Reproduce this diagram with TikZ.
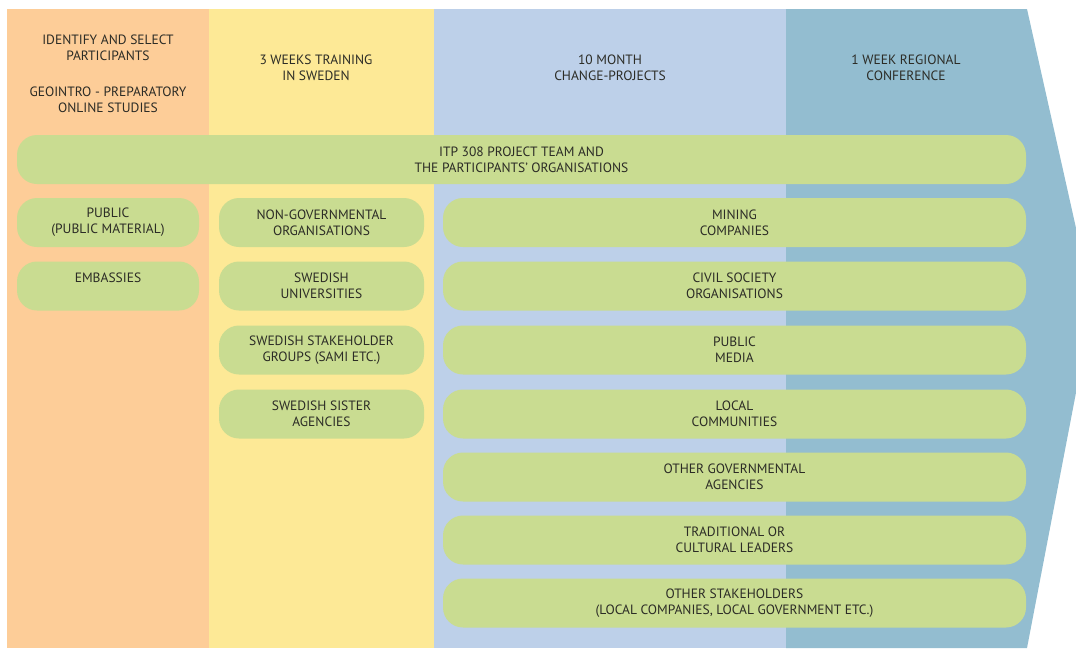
\documentclass[tikz,border=0pt]{standalone}
\usepackage{fontspec}
\setmainfont{PT Sans}
\definecolor{corange}{HTML}{FDCD98}
\definecolor{cyellow}{HTML}{FDE996}
\definecolor{clblue}{HTML}{BDD0E9}
\definecolor{cdblue}{HTML}{93BDD0}
\definecolor{cgreen}{HTML}{C9DC91}
\definecolor{ctext}{HTML}{2C2C26}
\tikzset{
  pill/.style={fill=cgreen, draw=none, rounded corners=20pt, inner sep=0pt,
    align=center, text=ctext, font=\fontsize{13.5}{16}\selectfont,
    minimum height=49pt},
  head/.style={align=center, text=ctext, font=\fontsize{13.5}{16}\selectfont, inner sep=0pt}
}
\begin{document}
\begin{tikzpicture}[x=1pt,y=-1pt]
\useasboundingbox (0,0) rectangle (1076,648);
% columns
\path[fill=corange] (7,9) rectangle (209,648);
\path[fill=cyellow] (209,9) rectangle (434,648);
\path[fill=clblue] (434,9) rectangle (786,648);
\path[fill=cdblue] (786,9) -- (1027,9) -- (1093,304) -- (1027,648) -- (786,648) -- cycle;
% headers
\node[head] (h1) at (108,74) {IDENTIFY AND SELECT\\PARTICIPANTS\\[20pt]GEOINTRO - PREPARATORY\\ONLINE STUDIES};
\node[head] (h2) at (316,68) {3 WEEKS TRAINING\\IN SWEDEN};
\node[head] (h3) at (610,68) {10 MONTH\\CHANGE-PROJECTS};
\node[head] (h4) at (906,68) {1 WEEK REGIONAL\\CONFERENCE};
% top bar
\node[pill, minimum width=1009pt] (team) at (521.5,159.5) {ITP 308 PROJECT TEAM AND\\THE PARTICIPANTS' ORGANISATIONS};
% left column
\node[pill, minimum width=182pt] (l1) at (108,222.5) {PUBLIC\\(PUBLIC MATERIAL)};
\node[pill, minimum width=182pt] (l2) at (108,286) {EMBASSIES\\\phantom{X}};
% middle column
\node[pill, minimum width=205pt] (m1) at (321.5,222.5) {NON-GOVERNMENTAL\\ORGANISATIONS};
\node[pill, minimum width=205pt] (m2) at (321.5,286) {SWEDISH\\UNIVERSITIES};
\node[pill, minimum width=205pt] (m3) at (321.5,350) {SWEDISH STAKEHOLDER\\GROUPS (SAMI ETC.)};
\node[pill, minimum width=205pt] (m4) at (321.5,414) {SWEDISH SISTER\\AGENCIES};
% right column
\node[pill, minimum width=583pt] (r1) at (734.5,222.5) {MINING\\COMPANIES};
\node[pill, minimum width=583pt] (r2) at (734.5,286) {CIVIL SOCIETY\\ORGANISATIONS};
\node[pill, minimum width=583pt] (r3) at (734.5,350) {PUBLIC\\MEDIA};
\node[pill, minimum width=583pt] (r4) at (734.5,414) {LOCAL\\COMMUNITIES};
\node[pill, minimum width=583pt] (r5) at (734.5,477) {OTHER GOVERNMENTAL\\AGENCIES};
\node[pill, minimum width=583pt] (r6) at (734.5,540) {TRADITIONAL OR\\CULTURAL LEADERS};
\node[pill, minimum width=583pt] (r7) at (734.5,603) {OTHER STAKEHOLDERS\\(LOCAL COMPANIES, LOCAL GOVERNMENT ETC.)};
\end{tikzpicture}
\end{document}
